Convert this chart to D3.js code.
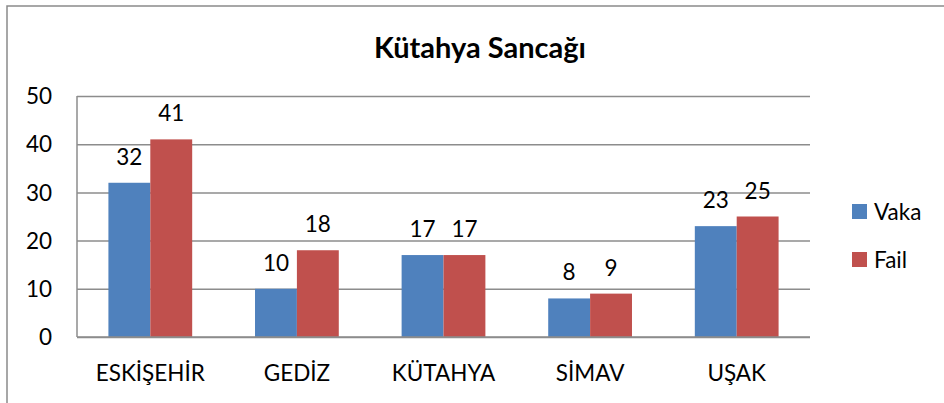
<!DOCTYPE html>
<html>
<head>
<meta charset="utf-8">
<script src="https://cdn.jsdelivr.net/npm/d3@7/dist/d3.min.js"></script>
<style>
  body { margin: 0; background: #fff; }
  svg text { font-family: Lato, "Open Sans", sans-serif; fill: #000; }
</style>
</head>
<body>
<div id="chart"></div>
<script>
const categories = ["ESKİŞEHİR", "GEDİZ", "KÜTAHYA", "SİMAV", "UŞAK"];
const seriesNames = ["Vaka", "Fail"];
const vaka = [32, 10, 17, 8, 23];
const fail = [41, 18, 17, 9, 25];
const yTicks = [0, 10, 20, 30, 40, 50];
const colors = ["#4F81BD", "#C0504D"];

const width = 944, height = 403;
const plot = { left: 77, right: 810, top: 96, bottom: 337 };
const fs = 22.5;

const svg = d3.select("#chart").append("svg")
  .attr("width", width).attr("height", height);

// chart frame (clipped at the right and bottom of the picture)
svg.append("path")
  .attr("d", `M7,${height + 2} V6 H${width + 2}`)
  .attr("fill", "none").attr("stroke", "#8a8a8a").attr("stroke-width", 1.5);

const x = d3.scaleBand().domain(categories).range([plot.left, plot.right]);
// gap width 150% -> bars take 2/(2+1.5) of the band
const x1 = d3.scaleBand().domain(seriesNames)
  .range([0, x.bandwidth()]).paddingOuter(0.75).paddingInner(0);
const y = d3.scaleLinear().domain([0, 50]).range([plot.bottom, plot.top]);

// gridlines
svg.append("g")
  .attr("transform", `translate(${plot.left},0)`)
  .call(d3.axisLeft(y).tickValues(yTicks).tickSize(-(plot.right - plot.left)).tickFormat(""))
  .call(g => g.select(".domain").remove())
  .call(g => g.selectAll("line").attr("stroke", "#8c8c8c").attr("stroke-width", 1.5));

// y labels
svg.append("g").selectAll("text").data(yTicks).join("text")
  .attr("x", 52).attr("y", d => y(d)).attr("dy", "0.36em")
  .attr("text-anchor", "end").attr("font-size", fs)
  .text(d => d);

// bars
const data = categories.map((c, i) => ({ cat: c, values: [vaka[i], fail[i]] }));
const groups = svg.append("g").selectAll("g").data(data).join("g")
  .attr("transform", d => `translate(${x(d.cat)},0)`);

groups.selectAll("rect").data(d => d.values.map((v, j) => ({ s: seriesNames[j], v, j })))
  .join("rect")
  .attr("x", d => x1(d.s)).attr("width", x1.bandwidth())
  .attr("y", d => y(d.v)).attr("height", d => y(0) - y(d.v))
  .attr("fill", d => colors[d.j]);

groups.selectAll("text").data(d => d.values.map((v, j) => ({ s: seriesNames[j], v })))
  .join("text")
  .attr("x", d => x1(d.s) + x1.bandwidth() / 2).attr("y", d => y(d.v) - 18)
  .attr("text-anchor", "middle").attr("font-size", fs)
  .text(d => d.v);

// axes lines
svg.append("line")
  .attr("x1", plot.left).attr("x2", plot.left).attr("y1", plot.top).attr("y2", plot.bottom)
  .attr("stroke", "#8c8c8c").attr("stroke-width", 1.5);
svg.append("line")
  .attr("x1", plot.left).attr("x2", plot.right).attr("y1", plot.bottom).attr("y2", plot.bottom)
  .attr("stroke", "#8c8c8c").attr("stroke-width", 1.5);

// category labels
svg.append("g").selectAll("text").data(categories).join("text")
  .attr("x", d => x(d) + x.bandwidth() / 2).attr("y", 381)
  .attr("text-anchor", "middle").attr("font-size", fs)
  .text(d => d);

// title
svg.append("text")
  .attr("x", 480).attr("y", 58).attr("text-anchor", "middle")
  .attr("font-size", 29).attr("font-weight", "bold")
  .text("Kütahya Sancağı");

// legend
const legend = svg.append("g").selectAll("g").data(seriesNames).join("g")
  .attr("transform", (d, i) => `translate(852,${204 + i * 48})`);
legend.append("rect").attr("width", 15).attr("height", 15)
  .attr("fill", (d, i) => colors[i]);
legend.append("text").attr("x", 22).attr("y", 15.5).attr("font-size", fs)
  .text(d => d);
</script>
</body>
</html>
